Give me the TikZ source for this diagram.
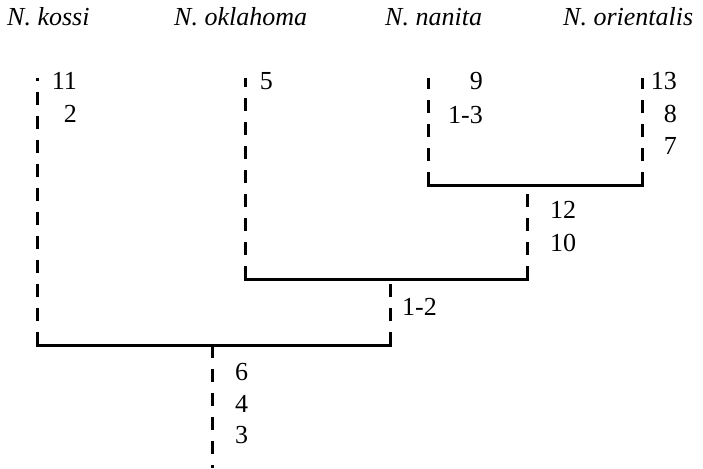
\documentclass[tikz,border=0pt]{standalone}
\usepackage{fontspec}
\setmainfont{Liberation Serif}
\begin{document}
\begin{tikzpicture}[x=1pt,y=-1pt,
  taxon/.style={font=\fontsize{26}{30}\selectfont\itshape, anchor=base west, inner sep=0pt},
  trait/.style={font=\fontsize{26}{30}\selectfont, inner sep=0pt},
  traitR/.style={trait, anchor=base east},
  traitL/.style={trait, anchor=base west},
  branch/.style={line width=3pt, dash pattern=on 13pt off 11pt},
  joinline/.style={line width=3pt, line cap=rect}]
\useasboundingbox (0,0) rectangle (703,468);

% taxon names
\node[taxon] (kossi) at (7,26) {N. kossi};
\node[taxon] (oklahoma) at (174,26) {N. oklahoma};
\node[taxon] (nanita) at (385,26) {N. nanita};
\node[taxon] (orientalis) at (563,26) {N. orientalis};

% tips and joints of the tree
\coordinate (tK) at (37,78);
\coordinate (tO) at (245,78);
\coordinate (tN) at (428,78);
\coordinate (tR) at (642,78);
\coordinate (cK) at (37,345);
\coordinate (cO) at (245,279);
\coordinate (cN) at (428,185);
\coordinate (cR) at (642,185);
\coordinate (nNR) at (527,185);
\coordinate (aNR) at (527,279);
\coordinate (nONR) at (390,279);
\coordinate (aONR) at (390,345);
\coordinate (root) at (212,345);
\coordinate (base) at (212,468);

% solid joins
\draw[joinline] (cN) -- (cR);
\draw[joinline] (cO) -- (aNR);
\draw[joinline] (cK) -- (aONR);

% dashed branches, drawn from the joint outwards
\draw[branch] (cK) -- (tK);
\draw[branch] (cO) -- (tO);
\draw[branch] (cN) -- (tN);
\draw[branch] (cR) -- (tR);
\draw[branch] (aNR) -- (nNR);
\draw[branch] (aONR) -- (nONR);
\draw[branch] (root) -- (base);

% character numbers
\node[traitR] (k1) at (77,90) {11};
\node[traitR] (k2) at (77,122) {2};
\node[traitR] (o1) at (273,90) {5};
\node[traitR] (n1) at (483,90) {9};
\node[traitR] (n2) at (483,123) {1-3};
\node[traitR] (r1) at (677,90) {13};
\node[traitR] (r2) at (677,122) {8};
\node[traitR] (r3) at (677,154) {7};
\node[traitL] (nr1) at (550,218) {12};
\node[traitL] (nr2) at (550,251) {10};
\node[traitL] (onr1) at (402,315) {1-2};
\node[traitL] (b1) at (235,380) {6};
\node[traitL] (b2) at (235,412) {4};
\node[traitL] (b3) at (235,443) {3};
\end{tikzpicture}
\end{document}
